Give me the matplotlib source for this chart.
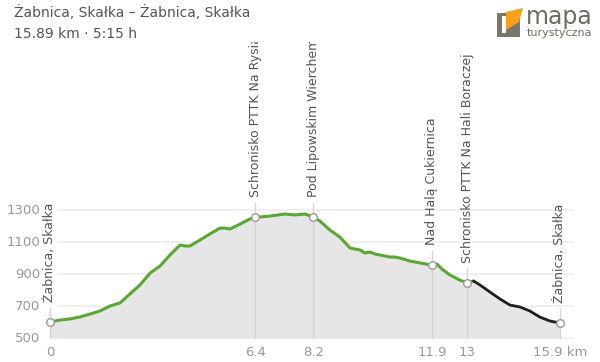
import matplotlib
matplotlib.use("Agg")
import matplotlib.pyplot as plt
from matplotlib.patches import Polygon, Rectangle

title = "Żabnica, Skałka – Żabnica, Skałka"
subtitle = "15.89 km · 5:15 h"

dist = [0, 0.31, 0.62, 0.93, 1.25, 1.56, 1.87, 2.18, 2.49, 2.80, 3.12, 3.43, 3.74,
        4.05, 4.21, 4.36, 4.67, 4.98, 5.30, 5.45, 5.61, 5.92, 6.23, 6.4, 6.54, 6.85,
        7.32, 7.63, 7.94, 8.2, 8.41, 8.72, 9.03, 9.35, 9.66, 9.81, 9.97, 10.12, 10.28,
        10.59, 10.75, 10.90, 11.21, 11.53, 11.9, 12.06, 12.21, 12.46, 12.77, 13.0,
        13.08, 13.2, 13.4, 13.71, 14.02, 14.33, 14.64, 14.95, 15.26, 15.58, 15.89]
elev = [600, 612, 619, 631, 650, 669, 700, 719, 775, 831, 906, 950, 1019,
        1081, 1075, 1075, 1112, 1150, 1187, 1187, 1181, 1212, 1244, 1256, 1256, 1262,
        1275, 1269, 1275, 1256, 1231, 1175, 1131, 1062, 1050, 1031, 1037, 1025, 1019,
        1006, 1006, 1000, 981, 969, 956, 962, 931, 894, 862, 844,
        850, 856, 831, 787, 744, 706, 694, 669, 631, 606, 594]
green_end = 13.2

wp_dist = [0, 6.4, 8.2, 11.9, 13.0, 15.89]
wp_elev = [600, 1256, 1256, 956, 844, 594]
wp_names = ["Żabnica, Skałka", "Schronisko PTTK Na Rysiance", "Pod Lipowskim Wierchem",
            "Nad Halą Cukiernica", "Schronisko PTTK Na Hali Boraczej", "Żabnica, Skałka"]

yticks = [500, 700, 900, 1100, 1300]
xtick_vals = [0, 6.4, 8.2, 11.9, 13, 15.89]
xtick_labels = ["0", "6.4", "8.2", "11.9", "13", "15.9 km"]

W, H = 600, 362
fig = plt.figure(figsize=(6, 3.62), dpi=100)
ax = fig.add_axes([50 / W, (H - 338) / H, 510 / W, (338 - 42) / H])
ax.set_xlim(0, 15.89)
ax.set_ylim(500, 2350)
for s in ax.spines.values():
    s.set_visible(False)
ax.set_xticks([])
ax.set_yticks([])

clip_rect = Rectangle((0, 0), 1, (H - 42) / H, transform=fig.transFigure,
                      facecolor="none", edgecolor="none")

for yv in yticks:
    ax.plot([0.25, 16.3], [yv, yv], color="#eeeeee", lw=1.2, zorder=0, clip_on=False)
    ax.text(-0.3, yv, str(yv), ha="right", va="center", fontsize=9.5, color="#999999",
            family="DejaVu Sans")

ax.fill_between(dist, elev, 500, color="#e6e6e6", lw=0, zorder=1)

gx = [d for d in dist if d <= green_end]
gy = elev[:len(gx)]
bx = dist[len(gx) - 1:]
by = elev[len(gx) - 1:]
ax.plot(gx, gy, color="#5aa833", lw=2.2, zorder=3, solid_capstyle="round")
ax.plot(bx, by, color="#1e1e1e", lw=2.0, zorder=3, solid_capstyle="round")

px_per_m = 128 / 800.0
for d, e, n in zip(wp_dist, wp_elev, wp_names):
    top = e + 20 / px_per_m
    ax.plot([d, d], [500, e + 14 / px_per_m], color="#d4d4d4", lw=1, zorder=2,
            clip_on=False)
    t = ax.text(d, top, n, rotation=90, ha="center", va="bottom", fontsize=9,
                color="#555555", family="DejaVu Sans", zorder=4)
    t.set_clip_path(clip_rect)
    t.set_clip_on(True)
ax.scatter(wp_dist, wp_elev, s=30, facecolor="white", edgecolor="#999999",
           linewidth=1, zorder=5, clip_on=False)

for v, l in zip(xtick_vals, xtick_labels):
    ax.text(v, 500 - 14 / px_per_m, l, ha="center", va="center", fontsize=9.5,
            color="#999999", clip_on=False)

fig.text(14 / W, 1 - 13 / H, title, fontsize=10, color="#555555", va="center", ha="left")
fig.text(14 / W, 1 - 34 / H, subtitle, fontsize=10, color="#555555", va="center", ha="left")

lax = fig.add_axes([0, 0, 1, 1], facecolor="none")
lax.set_xlim(0, W)
lax.set_ylim(H, 0)
lax.axis("off")
lax.add_patch(Polygon([[497, 13], [520, 13], [520, 37], [497, 37]], closed=True,
                      facecolor="#77776a", edgecolor="none"))
lax.add_patch(Polygon([[502, 16], [506, 16], [506, 33], [502, 33]], closed=True,
                      facecolor="white", edgecolor="none"))
lax.add_patch(Polygon([[506, 12], [523, 8], [519, 22], [506, 30]], closed=True,
                      facecolor="#f7a11a", edgecolor="none"))
lax.text(526, 17, "mapa", fontsize=17, color="#6d6d5d", va="center", ha="left",
         family="DejaVu Sans")
lax.text(527, 33, "turystyczna", fontsize=8, color="#6d6d5d", va="center", ha="left",
         family="DejaVu Sans")

fig.savefig("out.png", dpi=100, facecolor="white")
